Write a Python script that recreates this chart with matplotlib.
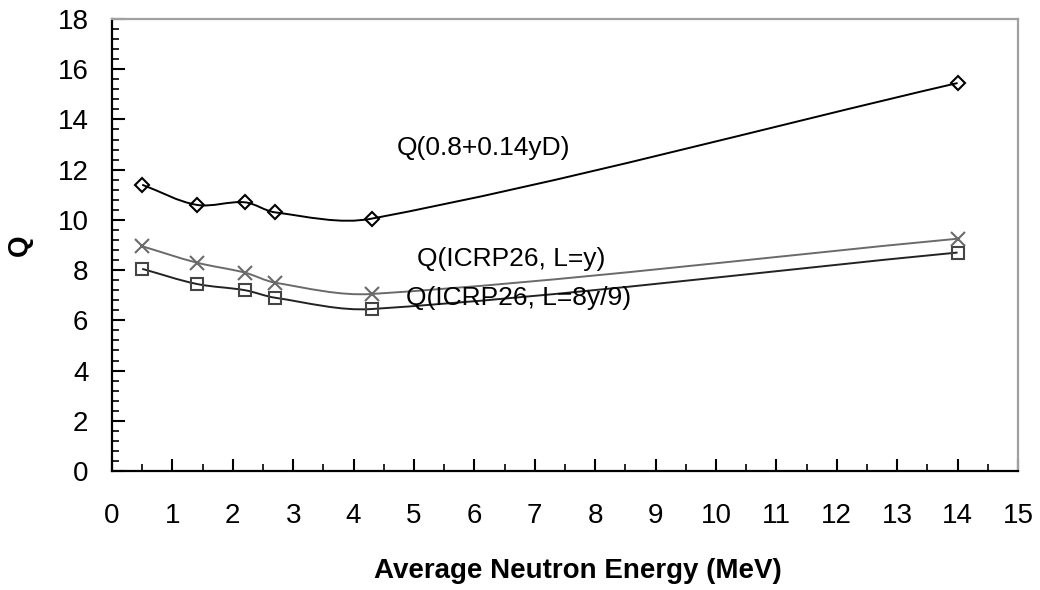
import numpy as np
import matplotlib
matplotlib.use("Agg")
import matplotlib.pyplot as plt
from matplotlib.path import Path
from matplotlib.patches import PathPatch
from matplotlib.ticker import MultipleLocator

plt.rcParams['font.family'] = ['Liberation Sans', 'DejaVu Sans']

energy = [0.5, 1.4, 2.2, 2.7, 4.3, 14.0]
q_yd = [11.4, 10.6, 10.7, 10.3, 10.05, 15.45]
q_icrp_y = [8.95, 8.3, 7.9, 7.5, 7.05, 9.25]
q_icrp_8y9 = [8.05, 7.45, 7.2, 6.9, 6.45, 8.7]

labels = ["Q(0.8+0.14yD)", "Q(ICRP26, L=y)", "Q(ICRP26, L=8y/9)"]

FS = 19
TFS = 20

fig = plt.figure(figsize=(10.4, 5.9), dpi=100)
ax = fig.add_axes([0.1077, 0.2017, 0.8711, 0.7661])
ax.set_xlim(0, 15)
ax.set_ylim(0, 18)


def smooth_path(xs, ys):
    # smoothed line (Excel-like Bezier), control points built in display space
    pd = ax.transData.transform(np.column_stack([xs, ys]).astype(float))
    n = len(pd)
    verts = [pd[0]]
    codes = [Path.MOVETO]

    def tangent(i):
        a = pd[max(i - 1, 0)]
        b = pd[min(i + 1, n - 1)]
        d = b - a
        return d / np.hypot(*d)

    for i in range(n - 1):
        p1, p2 = pd[i], pd[i + 1]
        L = np.hypot(*(p2 - p1)) / 3.0
        c1 = p1 + tangent(i) * L
        c2 = p2 - tangent(i + 1) * L
        verts += [c1, c2, p2]
        codes += [Path.CURVE4] * 3
    verts = ax.transData.inverted().transform(np.array(verts))
    return Path(verts, codes)


series = [
    (q_yd, 'D', 'black', 'black', 7.5),
    (q_icrp_y, 'x', '#6a6a6a', '#6a6a6a', 10),
    (q_icrp_8y9, 's', '#222222', '#444444', 8.5),
]
for ys, m, lc, mc, ms in series:
    ax.add_patch(PathPatch(smooth_path(energy, ys), facecolor='none',
                           edgecolor=lc, lw=1.4, zorder=2))
    ax.plot(energy, ys, linestyle='none', marker=m, markersize=ms,
            markerfacecolor='none', markeredgecolor=mc, markeredgewidth=1.5,
            zorder=3)

ax.text(4.72, 12.85, labels[0], fontsize=FS, va='center', ha='left')
ax.text(5.05, 8.45, labels[1], fontsize=FS, va='center', ha='left')
ax.text(4.87, 6.9, labels[2], fontsize=FS, va='center', ha='left')

ax.xaxis.set_major_locator(MultipleLocator(1))
ax.xaxis.set_minor_locator(MultipleLocator(0.5))
ax.yaxis.set_major_locator(MultipleLocator(2))
ax.yaxis.set_minor_locator(MultipleLocator(0.4))
ax.tick_params(axis='both', which='major', direction='in', length=9,
               width=1.5, labelsize=TFS, color='black')
ax.tick_params(axis='both', which='minor', direction='in', length=5,
               width=1.2, color='black')
ax.tick_params(axis='x', which='major', pad=23)
ax.tick_params(axis='y', which='major', pad=17)

for s in ['left', 'bottom']:
    ax.spines[s].set_color('black')
    ax.spines[s].set_linewidth(1.6)
for s in ['top', 'right']:
    ax.spines[s].set_color('#a0a0a0')
    ax.spines[s].set_linewidth(1.6)

ax.set_xlabel("Average Neutron Energy (MeV)", fontsize=TFS, fontweight='bold')
ax.set_ylabel("Q", fontsize=TFS, fontweight='bold')
ax.xaxis.set_label_coords(0.514, -0.192)
ax.yaxis.set_label_coords(-0.087, 0.5)

fig.savefig("out.png", dpi=100)
